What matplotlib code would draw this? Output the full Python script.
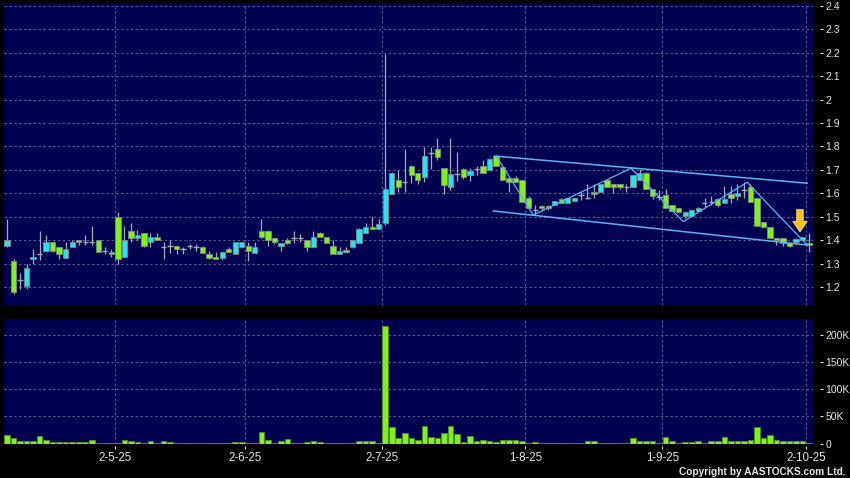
import matplotlib
matplotlib.use("Agg")
import matplotlib.pyplot as plt
from matplotlib.patches import Polygon
import numpy as np

# ---------------- data ----------------
opens = [1.376, 1.31, 1.23, 1.205, 1.32, 1.34, 1.355, 1.39, 1.37, 1.325,
         1.37, 1.40, 1.39, 1.39, 1.40, 1.355, 1.34, 1.50, 1.33, 1.44,
         1.41, 1.43, 1.39, 1.415, 1.37, 1.375, 1.375, 1.36, 1.375, 1.37,
         1.37, 1.34, 1.327, 1.325, 1.36, 1.34, 1.37, 1.375, 1.345, 1.44,
         1.44, 1.41, 1.375, 1.40, 1.408, 1.408, 1.40, 1.37, 1.43, 1.415,
         1.376, 1.341, 1.348, 1.37, 1.387, 1.43, 1.457, 1.446, 1.475, 1.596,
         1.657, 1.647, 1.717, 1.686, 1.668, 1.773, 1.789, 1.707, 1.626, 1.681,
         1.704, 1.678, 1.704, 1.717, 1.70, 1.759, 1.713, 1.667, 1.667, 1.657,
         1.579, 1.529, 1.547, 1.547, 1.55, 1.576, 1.557, 1.567, 1.593, 1.579,
         1.597, 1.607, 1.657, 1.639, 1.639, 1.628, 1.628, 1.657, 1.688, 1.617,
         1.586, 1.593, 1.55, 1.536, 1.504, 1.504, 1.524, 1.557, 1.562, 1.576,
         1.557, 1.596, 1.59, 1.614, 1.626, 1.579, 1.476, 1.457, 1.408, 1.408,
         1.387, 1.39, 1.40, 1.387]
highs = [1.49, 1.32, 1.26, 1.30, 1.36, 1.44, 1.42, 1.39, 1.37, 1.39,
         1.40, 1.40, 1.42, 1.46, 1.40, 1.37, 1.36, 1.52, 1.46, 1.475,
         1.445, 1.43, 1.43, 1.43, 1.39, 1.40, 1.375, 1.37, 1.385, 1.385,
         1.375, 1.355, 1.35, 1.35, 1.372, 1.39, 1.39, 1.39, 1.39, 1.49,
         1.445, 1.41, 1.387, 1.41, 1.44, 1.425, 1.40, 1.44, 1.435, 1.415,
         1.40, 1.37, 1.37, 1.40, 1.45, 1.475, 1.50, 1.49, 2.195, 1.69,
         1.70, 1.79, 1.72, 1.686, 1.797, 1.797, 1.835, 1.707, 1.835, 1.775,
         1.71, 1.71, 1.715, 1.74, 1.75, 1.762, 1.713, 1.667, 1.675, 1.657,
         1.59, 1.55, 1.55, 1.55, 1.567, 1.58, 1.58, 1.58, 1.606, 1.64,
         1.64, 1.64, 1.66, 1.639, 1.64, 1.64, 1.68, 1.703, 1.69, 1.617,
         1.614, 1.62, 1.55, 1.536, 1.522, 1.53, 1.54, 1.579, 1.59, 1.58,
         1.63, 1.63, 1.64, 1.65, 1.64, 1.58, 1.476, 1.457, 1.408, 1.408,
         1.39, 1.41, 1.415, 1.429]
lows = [1.37, 1.17, 1.19, 1.19, 1.30, 1.315, 1.355, 1.35, 1.32, 1.325,
        1.37, 1.38, 1.38, 1.38, 1.35, 1.34, 1.33, 1.30, 1.327, 1.39,
        1.40, 1.37, 1.37, 1.40, 1.32, 1.345, 1.34, 1.34, 1.36, 1.355,
        1.345, 1.32, 1.318, 1.315, 1.348, 1.34, 1.37, 1.31, 1.345, 1.41,
        1.375, 1.385, 1.355, 1.385, 1.387, 1.39, 1.355, 1.37, 1.415, 1.387,
        1.34, 1.341, 1.345, 1.368, 1.387, 1.43, 1.446, 1.446, 1.465, 1.596,
        1.607, 1.607, 1.643, 1.64, 1.65, 1.704, 1.74, 1.596, 1.614, 1.653,
        1.66, 1.653, 1.68, 1.686, 1.70, 1.715, 1.655, 1.607, 1.647, 1.564,
        1.536, 1.51, 1.53, 1.53, 1.55, 1.557, 1.557, 1.567, 1.57, 1.575,
        1.58, 1.607, 1.628, 1.60, 1.62, 1.605, 1.628, 1.657, 1.617, 1.575,
        1.571, 1.536, 1.526, 1.519, 1.496, 1.504, 1.524, 1.543, 1.55, 1.54,
        1.557, 1.56, 1.57, 1.58, 1.564, 1.46, 1.457, 1.408, 1.38, 1.375,
        1.37, 1.385, 1.40, 1.351]
closes = [1.40, 1.18, 1.23, 1.28, 1.33, 1.34, 1.39, 1.355, 1.34, 1.36,
          1.39, 1.39, 1.39, 1.39, 1.35, 1.355, 1.35, 1.32, 1.40, 1.41,
          1.42, 1.375, 1.415, 1.40, 1.37, 1.375, 1.36, 1.36, 1.375, 1.37,
          1.345, 1.325, 1.318, 1.35, 1.348, 1.39, 1.39, 1.355, 1.37, 1.415,
          1.40, 1.39, 1.387, 1.387, 1.408, 1.408, 1.37, 1.415, 1.415, 1.387,
          1.34, 1.355, 1.358, 1.40, 1.446, 1.457, 1.446, 1.468, 1.617, 1.686,
          1.626, 1.647, 1.677, 1.657, 1.759, 1.773, 1.756, 1.636, 1.682, 1.681,
          1.671, 1.697, 1.704, 1.686, 1.746, 1.717, 1.655, 1.647, 1.647, 1.564,
          1.536, 1.529, 1.536, 1.536, 1.567, 1.557, 1.579, 1.579, 1.593, 1.579,
          1.607, 1.639, 1.628, 1.628, 1.628, 1.628, 1.678, 1.686, 1.617, 1.589,
          1.586, 1.536, 1.526, 1.519, 1.522, 1.529, 1.536, 1.557, 1.562, 1.55,
          1.576, 1.579, 1.60, 1.614, 1.564, 1.46, 1.457, 1.408, 1.40, 1.387,
          1.375, 1.403, 1.412, 1.38]
volumes_k = [14.7, 9.8, 5.5, 5.5, 4.3, 14.0, 7.3, 2.4, 2.0, 2.0,
             2.0, 2.0, 2.0, 6.0, 1.8, 1.2, 1.2, 0.6, 7.3, 4.3,
             2.4, 0.6, 3.7, 0.6, 5.5, 2.4, 0.6, 1.0, 1.0, 1.0,
             1.0, 1.0, 1.0, 1.0, 1.0, 2.0, 2.0, 0.5, 0.5, 22.0,
             6.1, 0.6, 4.3, 8.6, 1.8, 1.8, 2.4, 4.9, 3.0, 0.6,
             1.8, 1.8, 0.6, 1.2, 4.3, 4.9, 5.5, 1.8, 216.0, 30.0,
             9.8, 20.0, 9.2, 6.1, 33.0, 12.8, 9.8, 18.4, 31.8, 17.0,
             2.4, 13.5, 5.5, 7.3, 4.9, 2.4, 7.3, 6.1, 6.1, 5.5,
             1.8, 2.4, 1.8, 0.6, 1.8, 1.8, 1.8, 0.6, 1.8, 5.5,
             4.3, 1.8, 1.8, 1.8, 0.6, 1.8, 9.8, 4.3, 5.5, 3.7,
             1.8, 11.6, 4.3, 1.2, 2.4, 2.4, 4.3, 0.6, 3.7, 4.9,
             12.2, 5.5, 4.9, 3.7, 6.7, 29.4, 9.2, 14.7, 7.3, 5.5,
             5.5, 3.7, 4.3, 1.0]

# first trading day of each month (candle index) and its label
month_idx = [17, 37, 58, 80, 101, 123]
month_labels = ["2-5-25", "2-6-25", "2-7-25", "1-8-25", "1-9-25", "2-10-25"]

price_ticks = [1.2, 1.3, 1.4, 1.5, 1.6, 1.7, 1.8, 1.9, 2.0, 2.1, 2.2, 2.3, 2.4]
price_tick_labels = ["1.2", "1.3", "1.4", "1.5", "1.6", "1.7", "1.8", "1.9",
                     "2", "2.1", "2.2", "2.3", "2.4"]
vol_ticks = [0, 50, 100, 150, 200]
vol_tick_labels = ["0", "50K", "100K", "150K", "200K"]

# user-drawn channel and zigzag (candle index, price)
upper_line = ([74.8, 122.7], [1.759, 1.643])
lower_line = ([74.6, 122.7], [1.5245, 1.379])
zigzag_x = [75.1, 80.7, 95.7, 103.7, 113.5, 122.7]
zigzag_y = [1.756, 1.507, 1.707, 1.479, 1.647, 1.379]

# ---------------- style ----------------
BG = "#000050"
GRID = "#5e5e90"
UP = "#22e4f4"
DOWN = "#80f020"
WICK = "#a8a8b4"
TXT = "#e6e6e6"
LINE = "#5cb4ee"

W, H = 850, 478
fig = plt.figure(figsize=(W / 100, H / 100), dpi=100, facecolor="black")
left, right = 4, 813
ax = fig.add_axes([left / W, 1 - 305 / H, (right - left) / W, (305 - 4) / H])
axv = fig.add_axes([left / W, 1 - 443.5 / H, (right - left) / W, (443.5 - 319) / H])

n = len(closes)
x = np.arange(n)
o = np.array(opens); c = np.array(closes); h = np.array(highs); l = np.array(lows)

for a in (ax, axv):
    a.set_facecolor(BG)
    for s in a.spines.values():
        s.set_visible(False)
    a.set_xlim(-0.46, 123.6)
    for m in month_idx:
        a.axvline(m - 0.5, color=GRID, lw=0.7, ls=(0, (2.5, 2.5)), zorder=0)

# price grid
for p in price_ticks:
    ax.axhline(p, color=GRID, lw=0.7, ls=(0, (2.5, 2.5)), zorder=0)
for v in vol_ticks[1:]:
    axv.axhline(v, color=GRID, lw=0.7, ls=(0, (2.5, 2.5)), zorder=0)

# candles
ax.vlines(x, l, h, color=WICK, lw=0.9, zorder=2)
bw = 0.82
for i in range(n):
    if abs(c[i] - o[i]) < 1e-9:
        ax.hlines(o[i], i - bw / 2, i + bw / 2, color=WICK, lw=1.0, zorder=3)
    else:
        col = UP if c[i] > o[i] else DOWN
        ax.bar(i, abs(c[i] - o[i]), bottom=min(o[i], c[i]), width=bw,
               color=col, edgecolor="#7c8a80", linewidth=0.6, zorder=3)

# channel / zigzag
ax.plot(upper_line[0], upper_line[1], color=LINE, lw=1.1, zorder=4)
ax.plot(lower_line[0], lower_line[1], color=LINE, lw=1.1, zorder=4)
ax.plot(zigzag_x, zigzag_y, color=LINE, lw=0.9, zorder=4)

# yellow arrow above the last candles
ax_x = n - 2.4
tip = c[-2] + 0.023
shaft_w, head_w, head_l, tot = 0.5, 1.1, 0.045, 0.095
arrow = Polygon([[ax_x - shaft_w, tip + tot], [ax_x + shaft_w, tip + tot],
                 [ax_x + shaft_w, tip + head_l], [ax_x + head_w, tip + head_l],
                 [ax_x, tip], [ax_x - head_w, tip + head_l],
                 [ax_x - shaft_w, tip + head_l]], closed=True,
                facecolor="#f7c21c", edgecolor="#ffe680", lw=0.6, zorder=6)
ax.add_patch(arrow)

ax.set_ylim(1.123, 2.408)
ax.set_yticks(price_ticks)
ax.set_yticklabels(price_tick_labels)
ax.set_xticks([])

# volume bars
axv.bar(x, volumes_k, width=0.86, color=DOWN, edgecolor="#4f8f18", linewidth=0.6, zorder=3)
axv.set_ylim(0, 228.5)
axv.set_yticks(vol_ticks)
axv.set_yticklabels(vol_tick_labels)
axv.set_xticks([m - 0.5 for m in month_idx])
axv.set_xticklabels(month_labels)

for a in (ax, axv):
    a.yaxis.tick_right()
    a.spines["right"].set_position(("outward", 5))
    a.tick_params(axis="y", colors=TXT, length=2.5, width=0.8, pad=1.5,
                  labelsize=7.5, labelfontfamily="Liberation Sans")
axv.spines["bottom"].set_position(("outward", 1.5))
axv.tick_params(axis="x", colors=TXT, length=2.5, width=0.8, pad=2,
                labelsize=8.3, labelfontfamily="Liberation Sans")

fig.text(845.5 / W, 1 - 472 / H, "Copyright by AASTOCKS.com Ltd.", color=TXT,
         fontsize=7.3, fontfamily="Liberation Sans", fontweight="bold",
         ha="right", va="center")

fig.savefig("out.png", dpi=100, facecolor="black")
